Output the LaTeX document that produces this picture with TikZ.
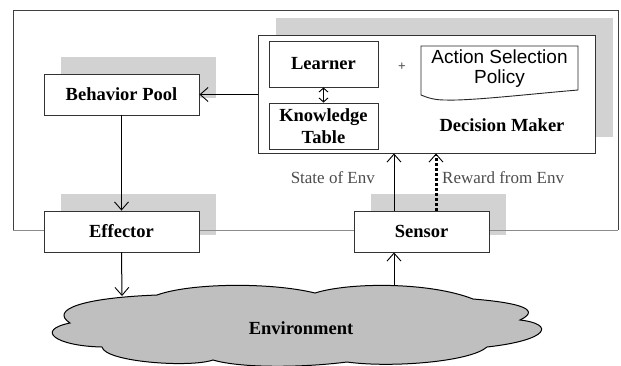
\documentclass[tikz,border=0pt]{standalone}
\usepackage{fontspec}
\setmainfont{Liberation Serif}
\newfontfamily\arialfont{Liberation Sans}
\usetikzlibrary{arrows.meta}

\begin{document}
\begin{tikzpicture}[x=1pt,y=-1pt,
  >={Straight Barb[length=8pt,width=14pt,line width=0.9pt]},
  box/.style={draw=black!80, fill=white, line width=0.9pt, inner sep=0pt,
    font=\bfseries\fontsize{18.5}{22}\selectfont, align=center},
  shadowbox/.style={fill=gray!35, draw=none},
  flow/.style={line width=1pt, ->},
  lbl/.style={font=\fontsize{17}{20}\selectfont, text=black!70, inner sep=0pt},
]
\useasboundingbox (0,0) rectangle (621,365);

% drop shadows behind the boxes
\fill[shadowbox] (276,18) rectangle (613,137);
\fill[shadowbox] (61,57) rectangle (216,98);
\fill[shadowbox] (61,194) rectangle (216,235);
\fill[shadowbox] (371,194) rectangle (506,235);

% agent frame
\draw[black!75, line width=0.9pt] (13,230) -- (13,10) -- (618,10) -- (618,230);
\draw[black!45, line width=0.9pt] (13,230) -- (618,230);

% environment cloud
\filldraw[fill=gray!50, draw=black, line width=1pt]
  (70,323) .. controls (50,310) and (80,298) .. (157,295)
  .. controls (190,283) and (270,282) .. (315,293)
  .. controls (350,282) and (430,282) .. (473,299)
  .. controls (510,302) and (545,308) .. (520,320)
  .. controls (555,324) and (550,340) .. (487,347)
  .. controls (470,362) and (390,368) .. (347,362)
  .. controls (300,368) and (240,368) .. (213,360)
  .. controls (190,368) and (105,362) .. (102,347)
  .. controls (55,346) and (35,330) .. cycle;
\node[font=\bfseries\fontsize{18.5}{22}\selectfont] (env) at (301,328) {Environment};
\coordinate (envL) at (122,296);
\coordinate (envR) at (394,286);

% decision maker
\node[box, minimum width=337pt, minimum height=118pt] (dm) at (426.5,94) {};
\node[font=\bfseries\fontsize{18.5}{22}\selectfont] (dmlabel) at (502,125) {Decision Maker};
\node[box, minimum width=109pt, minimum height=46pt] (learner) at (323.5,64) {Learner};
\node[box, minimum width=109pt, minimum height=46pt] (know) at (323.5,126) {Knowledge\\Table};
\node[font=\arialfont\fontsize{13}{15}\selectfont, text=black!70] (plus) at (402,67) {+};
\draw[black!85, line width=0.9pt] (421,46) -- (578,46) -- (578,90)
  .. controls (530,94) and (470,101) .. (445,100)
  .. controls (435,100) and (428,98) .. (421,95) -- cycle;
\node[font=\arialfont\fontsize{19}{20}\selectfont, align=center] (asp) at (499.5,69)
  {Action Selection\\Policy};

% other modules
\node[box, minimum width=155pt, minimum height=41pt] (bp) at (121.5,94.5) {Behavior Pool};
\node[box, minimum width=155pt, minimum height=41pt] (eff) at (121.5,231.5) {Effector};
\node[box, minimum width=135pt, minimum height=41pt] (sen) at (421.5,231.5) {Sensor};

% connectors
\draw[flow] (dm.west |- bp.east) -- (bp.east);
\draw[line width=0.9pt, {Straight Barb[length=4pt,width=9pt]}-{Straight Barb[length=4pt,width=9pt]}]
  (learner) -- (know);
\draw[flow] (bp.south) -- (eff.north);
\draw[flow] (eff.south) -- (envL);
\draw[flow] (envR) -- (envR |- sen.south);
\draw[flow] (sen.north -| envR) -- (dm.south -| envR);
\draw[line width=3pt, dash pattern=on 3pt off 2pt, ->]
  (sen.north -| 436,0) -- (dm.south -| 436,0);

% signal labels
\node[lbl, anchor=east] (stlbl) at (375,178) {State of Env};
\node[lbl, anchor=west] (rwlbl) at (442,178) {Reward from Env};
\end{tikzpicture}
\end{document}
